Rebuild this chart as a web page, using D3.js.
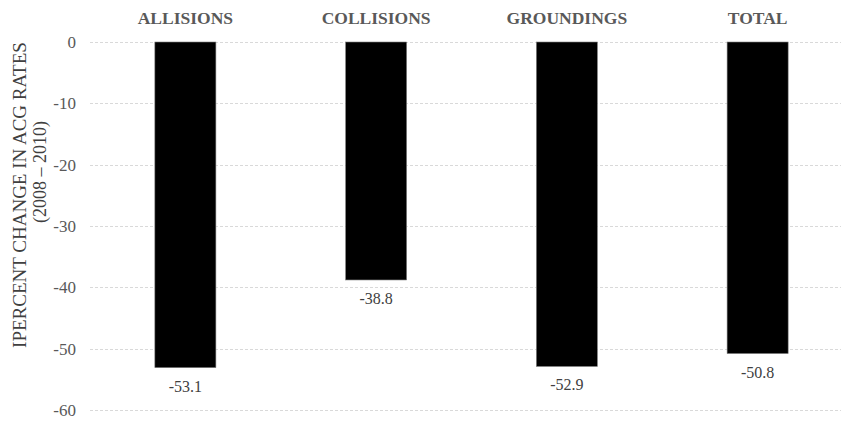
<!DOCTYPE html>
<html>
<head>
<meta charset="utf-8">
<script src="https://cdn.jsdelivr.net/npm/d3@7"></script>
<style>
  html, body { margin: 0; padding: 0; background: #fff; }
  svg { display: block; font-family: "Liberation Serif", "Times New Roman", serif; }
</style>
</head>
<body>
<svg id="chart" width="841" height="421"></svg>
<script>
// Percent change in ACG rates by casualty type, 2008 – 2010
const categories = ["ALLISIONS", "COLLISIONS", "GROUNDINGS", "TOTAL"];
const changes = [-53.1, -38.8, -52.9, -50.8];
const yTicks = [0, -10, -20, -30, -40, -50, -60];
const titleLines = ["IPERCENT CHANGE IN ACG RATES", "(2008 – 2010)"];

const svg = d3.select("#chart");

const x = d3.scaleBand()
  .domain(categories)
  .range([90, 853])
  .paddingInner(0.68)
  .paddingOuter(0.34);

const y = d3.scaleLinear()
  .domain([0, -60])
  .range([42, 410]);

// dashed gridlines
svg.append("g")
  .selectAll("line")
  .data(yTicks)
  .join("line")
  .attr("x1", 90)
  .attr("x2", 841)
  .attr("y1", d => Math.round(y(d)) + 0.5)
  .attr("y2", d => Math.round(y(d)) + 0.5)
  .attr("stroke", "#d9d9d9")
  .attr("stroke-width", 1)
  .attr("stroke-dasharray", "3,2");

// y axis tick labels (plain hyphen minus)
const yAxis = d3.axisLeft(y)
  .tickValues(yTicks)
  .tickFormat(d => String(d))
  .tickSize(0)
  .tickPadding(0);
const yg = svg.append("g").attr("transform", "translate(76,0)").call(yAxis);
yg.select(".domain").remove();
yg.selectAll("text")
  .attr("font-family", "Liberation Serif, Times New Roman, serif")
  .attr("font-size", 17)
  .attr("fill", "#595959");

// bars
svg.append("g")
  .selectAll("rect")
  .data(categories)
  .join("rect")
  .attr("x", d => x(d))
  .attr("width", x.bandwidth())
  .attr("y", y(0))
  .attr("height", (d, i) => y(changes[i]) - y(0))
  .attr("fill", "#000")
  .attr("stroke", "#7f7f7f")
  .attr("stroke-width", 0.6);

// category headers along the top
const xAxis = d3.axisTop(x).tickSize(0).tickPadding(0);
const xg = svg.append("g").attr("transform", "translate(0,24)").call(xAxis);
xg.select(".domain").remove();
xg.selectAll("text")
  .attr("font-family", "Liberation Serif, Times New Roman, serif")
  .attr("font-size", 17.5)
  .attr("font-weight", "bold")
  .attr("fill", "#595959")
  .attr("dy", 0);

// value labels beneath each bar
svg.append("g")
  .selectAll("text")
  .data(categories)
  .join("text")
  .attr("x", d => x(d) + x.bandwidth() / 2)
  .attr("y", (d, i) => y(changes[i]) + 24)
  .attr("text-anchor", "middle")
  .attr("font-size", 16)
  .attr("fill", "#404040")
  .text((d, i) => changes[i].toFixed(1));

// rotated axis title
const title = svg.append("g");
title.append("text")
  .attr("transform", "translate(26,195) rotate(-90)")
  .attr("text-anchor", "middle")
  .attr("font-size", 19)
  .attr("fill", "#404040")
  .text(titleLines[0]);
title.append("text")
  .attr("transform", "translate(46,172) rotate(-90)")
  .attr("text-anchor", "middle")
  .attr("font-size", 18)
  .attr("fill", "#404040")
  .text(titleLines[1]);
</script>
</body>
</html>
